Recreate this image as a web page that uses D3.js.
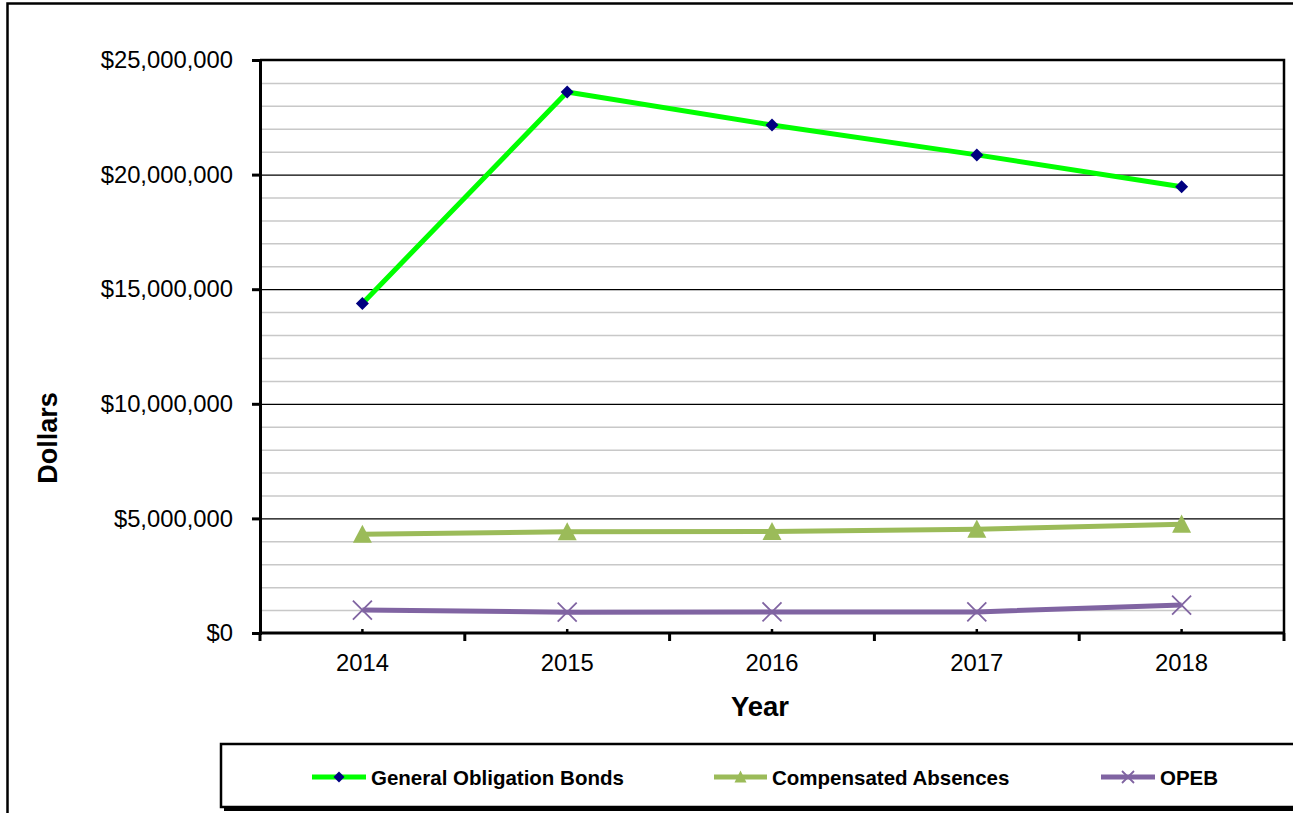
<!doctype html>
<html lang="en">
<head>
  <meta charset="utf-8">
  <title>Long-Term Debt</title>
  <style>
  body {
    margin: 0;
    background: #fff;
  }
  svg {
    display: block;
    font-family: "Liberation Sans", Arial, Helvetica, sans-serif;
  }
  .grid .domain { display: none; }
  .grid line { stroke: #c8c8c8; stroke-width: 1.5px; }
  .grid .major line { stroke: #000; stroke-width: 1.2px; }
  .axis text { fill: #000; font-size: 23.8px; }
  .legend text { font-size: 20.5px; font-weight: bold; fill: #000; }
  </style>
</head>
<body>
  <div id="chart"></div>
  <script src="https://cdn.jsdelivr.net/npm/d3@7"></script>

  <script>
    // yearly balances
    var years = ['2014', '2015', '2016', '2017', '2018'];
    var bonds = [14380000, 23600000, 22160000, 20860000, 19470000];
    var absences = [4310000, 4420000, 4430000, 4530000, 4750000];
    var opeb = [1000000, 910000, 920000, 920000, 1220000];

    var seriesNames = ['General Obligation Bonds', 'Compensated Absences', 'OPEB'];
    var yMajorTicks = [0, 5000000, 10000000, 15000000, 20000000, 25000000];
    var yMinorStep = 1000000;
    var yMax = 25000000;

    (function() {

      var width = 1293,
          height = 813,
          left = 260,
          right = 1284,
          top = 60,
          bottom = 633;

      var series = [
        { name: seriesNames[0], values: bonds, color: '#00ff00', marker: 'diamond' },
        { name: seriesNames[1], values: absences, color: '#9bbb59', marker: 'triangle' },
        { name: seriesNames[2], values: opeb, color: '#8064a2', marker: 'cross' }
      ];

      var svg = d3.select('#chart')
          .append('svg')
          .attr('width', width)
          .attr('height', height);

      // outer chart frame, runs off the right and bottom edges
      svg.append('rect')
        .attr('x', 7.5).attr('y', 3.5)
        .attr('width', width + 20).attr('height', height + 20)
        .attr('fill', '#fff')
        .attr('stroke', '#000')
        .attr('stroke-width', 2.5);

      var x = d3.scalePoint()
          .domain(years)
          .range([left, right])
          .padding(0.5);

      var y = d3.scaleLinear()
          .domain([0, yMax])
          .range([bottom, top]);

      // minor + major gridlines
      var grid = svg.append('g')
        .attr('class', 'grid')
        .attr('transform', 'translate(' + left + ',0)')
        .call(d3.axisLeft(y)
          .tickValues(d3.range(0, yMax + 1, yMinorStep))
          .tickSize(-(right - left))
          .tickFormat(''));
      grid.selectAll('.tick')
        .classed('major', function(d) { return yMajorTicks.indexOf(d) >= 0; });

      // plot border top/right
      svg.append('path')
        .attr('d', 'M' + left + ',' + top + 'H' + right + 'V' + bottom)
        .attr('fill', 'none')
        .attr('stroke', '#000')
        .attr('stroke-width', 2.5);

      // y axis
      var yAxis = svg.append('g')
        .attr('class', 'axis')
        .attr('transform', 'translate(' + left + ',0)')
        .call(d3.axisLeft(y)
          .tickValues(yMajorTicks)
          .tickSize(8)
          .tickPadding(19)
          .tickFormat(d3.format('$,')));
      yAxis.select('.domain').attr('stroke-width', 3);
      yAxis.selectAll('.tick line').attr('stroke-width', 3);

      // x axis, ticks sit between categories
      var step = x.step();
      var bounds = d3.range(years.length + 1).map(function(i) { return left + i * step; });

      var xAxis = svg.append('g')
        .attr('class', 'axis')
        .attr('transform', 'translate(0,' + bottom + ')');
      xAxis.append('line')
        .attr('x1', left - 1).attr('x2', right + 1)
        .attr('stroke', '#000').attr('stroke-width', 3);
      xAxis.selectAll('.btick')
        .data(bounds)
        .enter().append('line')
        .attr('x1', function(d) { return d; })
        .attr('x2', function(d) { return d; })
        .attr('y1', 0).attr('y2', 8)
        .attr('stroke', '#000').attr('stroke-width', 3);
      xAxis.selectAll('.ctick')
        .data(years)
        .enter().append('line')
        .attr('x1', function(d) { return x(d); })
        .attr('x2', function(d) { return x(d); })
        .attr('y1', 0).attr('y2', -4)
        .attr('stroke', '#000').attr('stroke-width', 2.5);
      xAxis.selectAll('.lbl')
        .data(years)
        .enter().append('text')
        .attr('x', function(d) { return x(d); })
        .attr('y', 38)
        .attr('text-anchor', 'middle')
        .text(function(d) { return d; });

      // axis titles
      svg.append('text')
        .attr('x', 760).attr('y', 716)
        .attr('text-anchor', 'middle')
        .style('font-size', '27.5px').style('font-weight', 'bold')
        .text('Year');
      svg.append('text')
        .attr('transform', 'translate(57,438) rotate(-90)')
        .attr('text-anchor', 'middle')
        .style('font-size', '27px').style('font-weight', 'bold')
        .text('Dollars');

      var line = d3.line()
        .x(function(d, i) { return x(years[i]); })
        .y(function(d) { return y(d); });

      var drawMarker = function(g, s, size) {
        if (s.marker === 'diamond') {
          g.append('path')
            .attr('d', d3.symbol(d3.symbolSquare, size * size * 0.5)())
            .attr('transform', 'rotate(45)')
            .attr('fill', '#000080');
        } else if (s.marker === 'triangle') {
          var h = size * 0.9, w = size;
          g.append('path')
            .attr('d', 'M0,' + (-h / 2 - 1) + 'L' + (w / 2) + ',' + (h / 2) + 'L' + (-w / 2) + ',' + (h / 2) + 'Z')
            .attr('fill', s.color);
        } else {
          var r = size / 2;
          g.append('path')
            .attr('d', 'M' + -r + ',' + -r + 'L' + r + ',' + r + 'M' + -r + ',' + r + 'L' + r + ',' + -r)
            .attr('stroke', s.color)
            .attr('stroke-width', 1.8)
            .attr('fill', 'none');
        }
      };

      var markerSize = { diamond: 13, triangle: 19, cross: 19 };

      series.forEach(function(s) {
        svg.append('path')
          .datum(s.values)
          .attr('d', line)
          .attr('fill', 'none')
          .attr('stroke', s.color)
          .attr('stroke-width', 5)
          .attr('stroke-linejoin', 'round');

        svg.selectAll(null)
          .data(s.values)
          .enter().append('g')
          .attr('transform', function(d, i) { return 'translate(' + x(years[i]) + ',' + y(d) + ')'; })
          .each(function() { drawMarker(d3.select(this), s, markerSize[s.marker]); });
      });

      // legend box with drop shadow
      var legend = svg.append('g').attr('class', 'legend');
      legend.append('rect')
        .attr('x', 224).attr('y', 747)
        .attr('width', 1100).attr('height', 64)
        .attr('fill', '#000');
      legend.append('rect')
        .attr('x', 221).attr('y', 744)
        .attr('width', 1100).attr('height', 63)
        .attr('fill', '#fff')
        .attr('stroke', '#000')
        .attr('stroke-width', 2.5);

      var items = [
        { x0: 312, x1: 366, tx: 371 },
        { x0: 714, x1: 767, tx: 772 },
        { x0: 1101, x1: 1155, tx: 1160 }
      ];

      series.forEach(function(s, i) {
        var it = items[i];
        legend.append('line')
          .attr('x1', it.x0).attr('x2', it.x1)
          .attr('y1', 777).attr('y2', 777)
          .attr('stroke', s.color)
          .attr('stroke-width', 5);
        var m = legend.append('g')
          .attr('transform', 'translate(' + ((it.x0 + it.x1) / 2) + ',777)');
        drawMarker(m, s, s.marker === 'diamond' ? 11 : 12);
        legend.append('text')
          .attr('x', it.tx).attr('y', 784.5)
          .text(s.name);
      });

    })();
  </script>
</body>
</html>
